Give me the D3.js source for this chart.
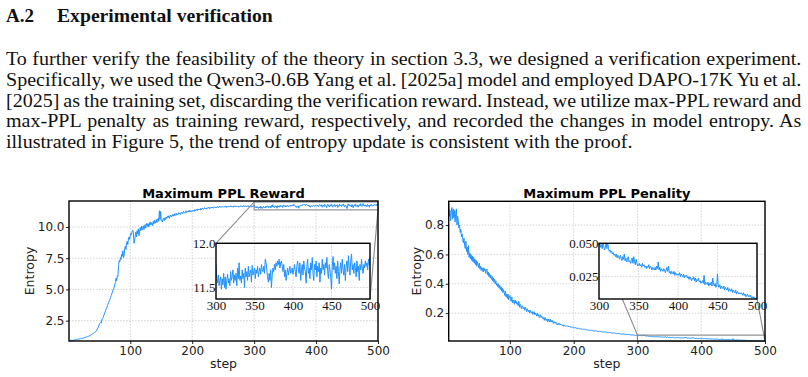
<!DOCTYPE html>
<html lang="en">
<head>
<meta charset="UTF-8">
<title>Experimental verification</title>
<style>
  body { margin: 0; background: #fff; }
  .para { font-family: "Liberation Serif", "Times New Roman", serif; font-size: 18.5px; fill: #111; }
  .head { font-family: "Liberation Serif", "Times New Roman", serif; font-size: 19px; font-weight: bold; fill: #111; }
  .title { font-family: "DejaVu Sans", sans-serif; font-size: 13px; font-weight: bold; }
  .axis text { font-family: "DejaVu Sans", sans-serif; font-size: 12px; fill: #222; }
  .inset-axis text { font-family: "Liberation Serif", serif; font-size: 13px; fill: #111; }
  .axis path, .inset-axis path { display: none; }
  .axis line { stroke: #222; }
  .inset-axis line { display: none; }
  .label { font-family: "DejaVu Sans", sans-serif; font-size: 12.5px; fill: #222; }
  .grid line { stroke: #c8c8c8; stroke-width: 0.8; stroke-dasharray: 1.5,1.5; }
  .frame { fill: none; stroke: #000; stroke-width: 1.4; }
  .curve { fill: none; stroke: #1e90ff; stroke-width: 1; }
  .mark { fill: none; stroke: #888; stroke-width: 1.1; }
</style>
<script src="https://d3js.org/d3.v7.min.js"></script>
</head>
<body>
<script>
const headingNum = "A.2";
const headingText = "Experimental verification";
const paragraph = [
  "To further verify the feasibility of the theory in section 3.3, we designed a verification experiment.",
  "Specifically, we used the Qwen3-0.6B Yang et al. [2025a] model and employed DAPO-17K Yu et al.",
  "[2025] as the training set, discarding the verification reward. Instead, we utilize max-PPL reward and",
  "max-PPL penalty as training reward, respectively, and recorded the changes in model entropy. As",
  "illustrated in Figure 5, the trend of entropy update is consistent with the proof."
];

const xTicks = [100, 200, 300, 400, 500];
const insetXTicks = [300, 350, 400, 450, 500];
const rewardYTicks = [2.5, 5.0, 7.5, 10.0];
const rewardInsetYTicks = [11.5, 12.0];
const penaltyYTicks = [0.2, 0.4, 0.6, 0.8];
const penaltyInsetYTicks = [0.025, 0.050];

// entropy per step, steps 1..500
const rewardEntropy = [
  0.90,0.89,0.91,0.90,0.92,0.91,0.93,0.92,0.94,0.95,
  0.96,0.95,0.98,0.99,1.00,1.02,1.01,1.03,1.05,1.06,
  1.08,1.07,1.10,1.12,1.11,1.14,1.16,1.18,1.17,1.20,
  1.23,1.25,1.24,1.28,1.31,1.33,1.37,1.40,1.44,1.47,
  1.50,1.54,1.58,1.62,1.68,1.75,1.84,1.95,2.08,2.20,
  2.30,2.36,2.32,2.55,2.68,2.74,2.88,3.02,3.15,3.30,
  3.42,3.55,3.70,3.82,3.95,4.08,4.20,4.35,4.50,4.62,
  4.78,4.92,5.05,5.20,5.38,5.55,5.90,5.70,6.10,6.05,
  6.90,7.30,7.20,7.55,7.40,7.80,7.65,8.10,7.55,7.70,
  8.30,8.45,8.20,8.70,8.85,8.60,9.05,9.20,9.00,9.35,
  9.50,9.40,9.65,9.75,9.55,8.70,8.95,9.30,9.60,9.20,
  9.70,9.45,9.85,9.30,9.60,9.95,9.70,10.05,9.75,9.90,
  10.10,9.80,10.00,10.20,9.90,10.15,10.30,10.05,10.25,10.00,
  10.35,10.15,10.40,10.20,10.30,10.10,10.45,10.25,10.55,10.30,
  10.40,10.60,10.35,10.50,10.70,10.45,11.30,10.60,11.25,10.50,
  10.55,10.40,10.65,10.70,10.50,10.75,10.60,10.80,10.70,10.85,
  10.75,10.90,10.70,10.85,10.95,10.80,10.90,11.00,10.85,10.95,
  11.05,10.90,11.00,11.10,10.95,11.05,11.00,11.15,11.05,11.10,
  11.00,11.15,11.20,11.05,11.10,11.25,11.15,11.10,11.20,11.30,
  11.15,11.25,11.20,11.30,11.20,11.35,11.25,11.20,11.30,11.25,
  11.35,11.30,11.25,11.40,11.30,11.35,11.40,11.30,11.45,11.35,
  11.40,11.45,11.35,11.50,11.40,11.45,11.50,11.40,11.45,11.55,
  11.45,11.50,11.42,11.55,11.48,11.52,11.58,11.47,11.55,11.50,
  11.58,11.52,11.60,11.50,11.56,11.62,11.54,11.58,11.52,11.60,
  11.64,11.55,11.60,11.66,11.57,11.62,11.58,11.65,11.60,11.63,
  11.58,11.66,11.60,11.64,11.56,11.68,11.62,11.65,11.59,11.67,
  11.62,11.70,11.60,11.66,11.63,11.58,11.68,11.64,11.70,11.61,
  11.66,11.60,11.69,11.64,11.58,11.67,11.62,11.71,11.65,11.60,
  11.68,11.63,11.72,11.61,11.66,11.70,11.62,11.67,11.64,11.71,
  11.60,11.68,11.63,11.70,11.65,11.58,11.69,11.62,11.66,11.76,
  11.60,11.55,11.64,11.52,11.58,11.62,11.48,11.60,11.53,11.66,
  11.50,11.62,11.48,11.58,11.65,11.55,11.60,11.52,11.68,11.58,
  11.62,11.70,11.55,11.64,11.58,11.66,11.52,11.72,11.60,11.78,
  11.58,11.63,11.55,11.70,11.60,11.66,11.50,11.72,11.62,11.68,
  11.58,11.74,11.62,11.66,11.70,11.56,11.75,11.64,11.68,11.72,
  11.60,11.70,11.66,11.74,11.62,11.68,11.72,11.65,11.76,11.70,
  11.68,11.74,11.66,11.82,11.78,11.70,11.62,11.56,11.66,11.58,
  11.70,11.50,11.64,11.72,11.68,11.76,11.70,11.78,11.74,11.80,
  11.76,11.82,11.72,11.78,11.80,11.74,11.68,11.76,11.62,11.70,
  11.58,11.66,11.72,11.64,11.70,11.74,11.66,11.68,11.72,11.65,
  11.70,11.76,11.68,11.62,11.74,11.80,11.70,11.66,11.78,11.58,
  11.70,11.76,11.64,11.80,11.72,11.68,11.55,11.74,11.82,11.66,
  11.72,11.60,11.78,11.70,11.84,11.66,11.58,11.76,11.70,11.80,
  11.62,11.74,11.68,11.78,11.56,11.72,11.66,11.82,11.70,11.76,
  11.64,11.78,11.72,11.84,11.68,11.60,11.76,11.70,11.62,11.48,
  11.74,11.85,11.70,11.78,11.66,11.74,11.60,11.80,11.68,11.54,
  11.72,11.78,11.66,11.82,11.70,11.64,11.76,11.58,11.74,11.80,
  11.68,11.86,11.72,11.64,11.80,11.88,11.70,11.76,11.66,11.78,
  11.72,11.62,11.80,11.68,11.74,11.58,11.76,11.70,11.82,11.72,
  11.66,11.76,11.72,11.80,11.74,11.78,11.70,11.82,11.76,11.84
];

// entropy per step, steps 4..500
const penaltyEntropy = [
  0.95,0.86,0.90,0.83,0.89,0.92,0.84,
  0.91,0.85,0.90,0.82,0.88,0.91,0.80,0.86,0.83,0.78,
  0.80,0.75,0.77,0.72,0.74,0.70,0.68,0.71,0.66,0.64,
  0.69,0.62,0.65,0.60,0.66,0.58,0.61,0.57,0.60,0.56,
  0.59,0.55,0.58,0.54,0.57,0.53,0.56,0.52,0.55,0.53,
  0.51,0.54,0.50,0.52,0.49,0.51,0.50,0.48,0.51,0.49,
  0.50,0.47,0.49,0.50,0.46,0.48,0.45,0.47,0.44,0.46,
  0.43,0.45,0.42,0.44,0.41,0.43,0.40,0.42,0.39,0.40,
  0.38,0.40,0.37,0.39,0.36,0.38,0.35,0.37,0.34,0.36,
  0.34,0.32,0.35,0.31,0.33,0.30,0.33,0.29,0.31,0.32,
  0.30,0.28,0.31,0.27,0.29,0.28,0.26,0.29,0.27,0.28,
  0.26,0.27,0.25,0.28,0.24,0.26,0.25,0.23,0.25,0.24,
  0.23,0.24,0.22,0.24,0.23,0.21,0.23,0.22,0.21,0.22,
  0.20,0.22,0.21,0.20,0.21,0.19,0.20,0.21,0.19,0.20,
  0.19,0.18,0.20,0.18,0.19,0.17,0.18,0.19,0.17,0.18,
  0.17,0.16,0.17,0.15,0.17,0.16,0.15,0.16,0.14,0.16,
  0.15,0.14,0.16,0.14,0.15,0.14,0.15,0.13,0.14,0.14,
  0.13,0.14,0.13,0.12,0.13,0.13,0.12,0.13,0.12,0.125,
  0.12,0.115,0.12,0.11,0.12,0.115,0.11,0.115,0.11,0.112,
  0.108,0.112,0.105,0.11,0.104,0.108,0.102,0.106,0.10,0.104,
  0.10,0.098,0.102,0.096,0.10,0.094,0.098,0.095,0.092,0.096,
  0.093,0.09,0.094,0.089,0.092,0.088,0.09,0.087,0.089,0.086,
  0.088,0.085,0.083,0.086,0.082,0.084,0.081,0.083,0.08,0.082,
  0.079,0.081,0.078,0.08,0.077,0.078,0.076,0.078,0.075,0.077,
  0.074,0.076,0.073,0.075,0.072,0.073,0.071,0.073,0.07,0.072,
  0.069,0.071,0.068,0.07,0.067,0.068,0.066,0.068,0.065,0.066,
  0.064,0.066,0.063,0.065,0.062,0.063,0.061,0.062,0.06,0.062,
  0.059,0.061,0.058,0.06,0.057,0.058,0.056,0.058,0.055,0.057,
  0.055,0.056,0.054,0.055,0.053,0.054,0.052,0.054,0.051,0.053,
  0.051,0.052,0.050,0.051,0.049,0.050,0.048,0.050,0.049,0.048,
  0.050,0.047,0.049,0.046,0.051,0.048,0.045,0.047,0.051,0.046,
  0.052,0.046,0.044,0.045,0.043,0.044,0.042,0.043,0.041,0.042,
  0.040,0.042,0.039,0.041,0.040,0.038,0.041,0.039,0.037,0.040,
  0.038,0.042,0.037,0.039,0.036,0.038,0.040,0.036,0.037,0.035,
  0.037,0.039,0.035,0.040,0.036,0.034,0.038,0.035,0.033,0.034,
  0.035,0.033,0.034,0.032,0.035,0.033,0.034,0.032,0.033,0.031,
  0.033,0.032,0.034,0.031,0.033,0.032,0.030,0.032,0.031,0.030,
  0.032,0.030,0.033,0.031,0.036,0.030,0.032,0.029,0.031,0.030,
  0.029,0.031,0.030,0.028,0.030,0.032,0.029,0.033,0.028,0.029,
  0.027,0.029,0.028,0.027,0.029,0.026,0.028,0.027,0.026,0.027,
  0.026,0.028,0.025,0.027,0.026,0.025,0.027,0.024,0.026,0.025,
  0.026,0.024,0.025,0.023,0.025,0.024,0.022,0.024,0.023,0.025,
  0.022,0.024,0.021,0.023,0.022,0.024,0.021,0.022,0.020,0.021,
  0.022,0.020,0.026,0.019,0.021,0.020,0.019,0.021,0.018,0.020,
  0.019,0.021,0.018,0.024,0.019,0.018,0.020,0.017,0.019,0.027,
  0.018,0.017,0.019,0.016,0.018,0.017,0.016,0.018,0.015,0.017,
  0.016,0.015,0.017,0.014,0.016,0.015,0.014,0.016,0.013,0.015,
  0.014,0.013,0.015,0.012,0.014,0.013,0.012,0.013,0.012,0.013,
  0.012,0.011,0.013,0.011,0.012,0.010,0.011,0.012,0.010,0.011,
  0.010,0.011,0.009,0.010,0.009,0.010,0.009,0.008,0.009,0.008
];

const rewardData = rewardEntropy.map((v, i) => ({ step: i + 1, v }));
const penaltyData = penaltyEntropy.map((v, i) => ({ step: i + 4, v }));

const svg = d3.select("body").append("svg")
  .attr("width", 808)
  .attr("height", 377);

// heading
svg.append("text").attr("class", "head").attr("x", 6).attr("y", 22).text(headingNum);
const head = svg.append("text").attr("class", "head").text(headingText);
const headScale = 216 / head.node().getComputedTextLength();
head.attr("transform", `translate(57,22) scale(${headScale},1)`);

// paragraph: widen glyphs a bit (like the reference) and justify all but the last line
const paraLines = paragraph.map((line, i) =>
  svg.append("text").attr("class", "para").text(line));
const lastLen = paraLines[paraLines.length - 1].node().getComputedTextLength();
const sx = 627 / lastLen;
paraLines.forEach((t, i) => {
  if (i < paraLines.length - 1) {
    const spaces = (paragraph[i].match(/ /g) || []).length;
    const natural = t.node().getComputedTextLength();
    t.attr("word-spacing", (796 / sx - natural) / spaces);
  }
  t.attr("transform", `translate(6,${65 + i * 20.8}) scale(${sx},1)`);
});

function drawPanel(cfg) {
  const g = svg.append("g");
  const x = d3.scaleLinear().domain(cfg.xDomain).range([cfg.left, cfg.right]);
  const y = d3.scaleLinear().domain(cfg.yDomain).range([cfg.bottom, cfg.top]);
  const clipId = cfg.id + "-clip";

  svg.append("clipPath").attr("id", clipId)
    .append("rect")
    .attr("x", cfg.left).attr("y", cfg.top)
    .attr("width", cfg.right - cfg.left).attr("height", cfg.bottom - cfg.top);

  // grid
  const grid = g.append("g").attr("class", "grid");
  grid.selectAll(".gx").data(xTicks).enter().append("line")
    .attr("x1", d => x(d)).attr("x2", d => x(d))
    .attr("y1", cfg.top).attr("y2", cfg.bottom);
  grid.selectAll(".gy").data(cfg.yTicks).enter().append("line")
    .attr("x1", cfg.left).attr("x2", cfg.right)
    .attr("y1", d => y(d)).attr("y2", d => y(d));

  const line = d3.line().x(d => x(d.step)).y(d => y(d.v));
  g.append("path")
    .datum(cfg.data)
    .attr("class", "curve")
    .attr("clip-path", `url(#${clipId})`)
    .attr("d", line);

  // axes
  g.append("g")
    .attr("class", "axis")
    .attr("transform", `translate(0,${cfg.bottom})`)
    .call(d3.axisBottom(x).tickValues(xTicks).tickFormat(d3.format("d")).tickSize(3).tickPadding(2));
  g.append("g")
    .attr("class", "axis")
    .attr("transform", `translate(${cfg.left},0)`)
    .call(d3.axisLeft(y).tickValues(cfg.yTicks).tickFormat(d3.format(".1f")).tickSize(3).tickPadding(1.5));

  // zoomed region indicator
  const ix = d3.scaleLinear().domain(cfg.inset.xDomain).range([cfg.inset.left, cfg.inset.right]);
  const iy = d3.scaleLinear().domain(cfg.inset.yDomain).range([cfg.inset.bottom, cfg.inset.top]);
  const x0 = x(cfg.inset.xDomain[0]), x1 = x(cfg.inset.xDomain[1]);
  const y0 = y(cfg.inset.yDomain[0]), y1 = Math.max(y(cfg.inset.yDomain[1]), cfg.top);
  g.append("rect").attr("class", "mark")
    .attr("x", x0).attr("y", y1).attr("width", x1 - x0).attr("height", y0 - y1);
  g.append("line").attr("class", "mark").attr("stroke-width", 0.8)
    .attr("x1", x0).attr("y1", y1).attr("x2", cfg.inset.left).attr("y2", cfg.inset.top);
  g.append("line").attr("class", "mark").attr("stroke-width", 0.8)
    .attr("x1", x1).attr("y1", y0).attr("x2", cfg.inset.right).attr("y2", cfg.inset.bottom);

  g.append("rect").attr("class", "frame")
    .attr("x", cfg.left).attr("y", cfg.top)
    .attr("width", cfg.right - cfg.left).attr("height", cfg.bottom - cfg.top);

  // inset
  const ins = g.append("g");
  const iclip = cfg.id + "-iclip";
  svg.append("clipPath").attr("id", iclip)
    .append("rect")
    .attr("x", cfg.inset.left).attr("y", cfg.inset.top)
    .attr("width", cfg.inset.right - cfg.inset.left).attr("height", cfg.inset.bottom - cfg.inset.top);
  ins.append("rect")
    .attr("x", cfg.inset.left).attr("y", cfg.inset.top)
    .attr("width", cfg.inset.right - cfg.inset.left).attr("height", cfg.inset.bottom - cfg.inset.top)
    .attr("fill", "#fff");
  const igrid = ins.append("g").attr("class", "grid");
  igrid.selectAll(".gx").data(insetXTicks).enter().append("line")
    .attr("x1", d => ix(d)).attr("x2", d => ix(d))
    .attr("y1", cfg.inset.top).attr("y2", cfg.inset.bottom);
  igrid.selectAll(".gy").data(cfg.inset.yTicks).enter().append("line")
    .attr("x1", cfg.inset.left).attr("x2", cfg.inset.right)
    .attr("y1", d => iy(d)).attr("y2", d => iy(d));
  const iline = d3.line().x(d => ix(d.step)).y(d => iy(d.v));
  ins.append("path")
    .datum(cfg.data.filter(d => d.step >= cfg.inset.xDomain[0]))
    .attr("class", "curve")
    .attr("stroke-width", 1.2)
    .attr("clip-path", `url(#${iclip})`)
    .attr("d", iline);
  ins.append("g")
    .attr("class", "inset-axis")
    .attr("transform", `translate(0,${cfg.inset.bottom})`)
    .call(d3.axisBottom(ix).tickValues(insetXTicks).tickFormat(d3.format("d")).tickSize(0).tickPadding(2));
  ins.append("g")
    .attr("class", "inset-axis")
    .attr("transform", `translate(${cfg.inset.left},0)`)
    .call(d3.axisLeft(iy).tickValues(cfg.inset.yTicks).tickFormat(d3.format(cfg.inset.fmt)).tickSize(0).tickPadding(0.5));
  ins.append("rect").attr("class", "frame")
    .attr("x", cfg.inset.left).attr("y", cfg.inset.top)
    .attr("width", cfg.inset.right - cfg.inset.left).attr("height", cfg.inset.bottom - cfg.inset.top);

  // labels
  const cx = (cfg.left + cfg.right) / 2;
  g.append("text").attr("class", "title").attr("text-anchor", "middle")
    .attr("x", cx).attr("y", 198).text(cfg.title);
  g.append("text").attr("class", "label").attr("text-anchor", "middle")
    .attr("x", cx).attr("y", 368).text("step");
  g.append("text").attr("class", "label").attr("text-anchor", "middle")
    .attr("transform", `translate(${cfg.ylabelX},${(cfg.top + cfg.bottom) / 2}) rotate(-90)`)
    .text("Entropy");
}

drawPanel({
  id: "reward",
  title: "Maximum PPL Reward",
  data: rewardData,
  xDomain: [1, 500],
  yDomain: [0.87, 12.08],
  yTicks: rewardYTicks,
  left: 69, right: 378, top: 201, bottom: 341,
  ylabelX: 34,
  inset: {
    xDomain: [300, 500], yDomain: [11.37, 12.0],
    yTicks: rewardInsetYTicks, fmt: ".1f",
    left: 216, right: 370, top: 243.3, bottom: 299
  }
});

drawPanel({
  id: "penalty",
  title: "Maximum PPL Penality",
  data: penaltyData,
  xDomain: [4, 500],
  yDomain: [0.01, 0.962],
  yTicks: penaltyYTicks,
  left: 448.7, right: 765, top: 201.3, bottom: 341,
  ylabelX: 421,
  inset: {
    xDomain: [300, 500], yDomain: [0.0083, 0.050],
    yTicks: penaltyInsetYTicks, fmt: ".3f",
    left: 599, right: 757, top: 243.3, bottom: 299
  }
});
</script>
</body>
</html>
